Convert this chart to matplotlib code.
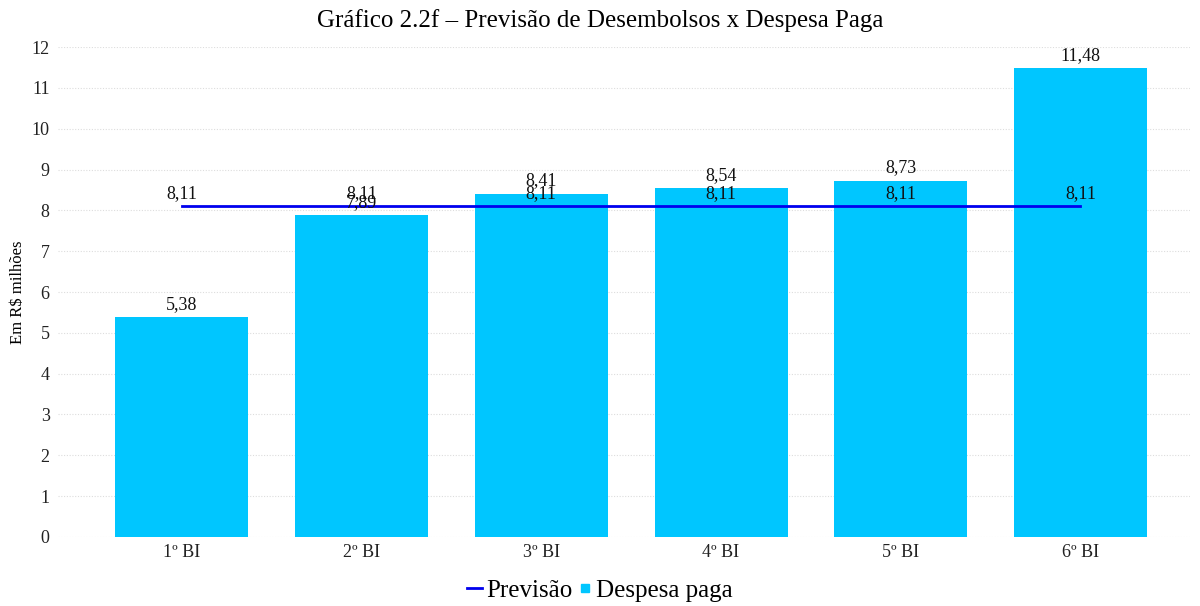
import matplotlib
matplotlib.use("Agg")
import matplotlib.pyplot as plt
from matplotlib.lines import Line2D

categories = ["1º BI", "2º BI", "3º BI", "4º BI", "5º BI", "6º BI"]
despesa = [5.38, 7.89, 8.41, 8.54, 8.73, 11.48]
previsao = [8.11, 8.11, 8.11, 8.11, 8.11, 8.11]
title = "Gráfico 2.2f – Previsão de Desembolsos x Despesa Paga"

def fmt(v):
    return f"{v:.2f}".replace(".", ",")

plt.rcParams['font.family'] = ['Liberation Serif', 'DejaVu Serif']
fig = plt.figure(figsize=(12, 6.06), dpi=100)
ax = fig.add_axes([0.0483, 0.1139, 0.9434, 0.8085])

x = list(range(len(categories)))
bar_color = "#00c6ff"
line_color = "#0000ee"
ax.bar(x, despesa, width=0.74, color=bar_color, zorder=2)
ax.plot(x, previsao, color=line_color, lw=2, zorder=3)

for xi, v in zip(x, despesa):
    ax.annotate(fmt(v), (xi, v), xytext=(0, 3), textcoords="offset points",
                ha="center", va="bottom", fontsize=13, color="#111111", zorder=4)
for xi, v in zip(x, previsao):
    ax.annotate(fmt(v), (xi, v), xytext=(0, 3), textcoords="offset points",
                ha="center", va="bottom", fontsize=13, color="#111111", zorder=4)

ax.set_xlim(-0.69, 5.61)
ax.set_ylim(0, 12)
ax.set_yticks(range(0, 13))
ax.set_xticks(x)
ax.set_xticklabels(categories)
ax.tick_params(axis="both", length=0, labelsize=13, colors="#222222")
ax.tick_params(axis="y", pad=6)
ax.tick_params(axis="x", pad=5)
for s in ax.spines.values():
    s.set_visible(False)
ax.yaxis.grid(True, linestyle=(0, (1, 1.5)), color="#dddddd", lw=0.8, zorder=0)
ax.set_axisbelow(True)
ax.set_ylabel("Em R$ milhões", fontsize=12, labelpad=4)

fig.suptitle(title, fontsize=18, y=0.985)

handles = [Line2D([0], [0], color=line_color, lw=2),
           Line2D([0], [0], marker="s", color=bar_color, lw=0, markersize=6)]
fig.legend(handles, ["Previsão", "Despesa paga"], loc="center",
           bbox_to_anchor=(0.5, 0.025), ncol=2, frameon=False, fontsize=18,
           handlelength=0.6, handletextpad=0.15, columnspacing=0.2)

fig.savefig("out.png", dpi=100)
